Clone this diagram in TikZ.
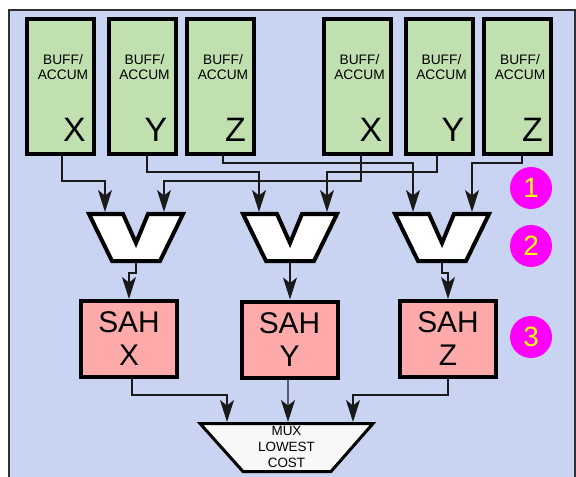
\documentclass[tikz,border=0pt]{standalone}
\usepackage{fontspec}
\setmainfont{Liberation Sans}
\usetikzlibrary{arrows.meta,calc}
\definecolor{panelfill}{HTML}{C8D4F2}
\definecolor{panelline}{HTML}{303030}
\definecolor{buffill}{HTML}{C0E0B0}
\definecolor{sahfill}{HTML}{FFAAAA}
\definecolor{muxfill}{HTML}{F8F8F8}
\definecolor{wirecol}{HTML}{1A1A1A}
\definecolor{badgefill}{HTML}{FF00FF}
\definecolor{badgetext}{HTML}{FFFF00}
\tikzset{
  bufbox/.style={draw=black, line width=4bp, fill=buffill, inner sep=0pt,
    minimum width=67bp, minimum height=135bp},
  buftext/.style={inner sep=0pt, align=center,
    font=\fontsize{13.8}{15}\selectfont},
  bigletter/.style={inner sep=0pt, font=\fontsize{34}{34}\selectfont},
  funnelbody/.style={draw=black, line width=4bp, fill=white, line join=miter},
  sahbox/.style={draw=black, line width=4bp, fill=sahfill, inner sep=0pt,
    minimum width=96bp, minimum height=76bp, align=center,
    font=\fontsize{30}{33}\selectfont},
  muxbody/.style={draw=black, line width=3bp, fill=muxfill, line join=miter},
  muxtext/.style={inner sep=0pt, align=center,
    font=\fontsize{13.5}{16}\selectfont},
  wire/.style={draw=wirecol, line width=1.4bp,
    -{Stealth[length=22bp, width=14bp, inset=5.5bp]}},
  badge/.style={circle, fill=badgefill, text=badgetext, inner sep=0pt,
    minimum size=42bp, font=\fontsize{28}{28}\selectfont},
}
\begin{document}
\begin{tikzpicture}[x=1bp, y=-1bp]
\useasboundingbox (0,0) rectangle (576,477);
\fill[white] (0,0) rectangle (576,477);
% panel behind the whole circuit
\draw[draw=panelline, line width=1.5bp, fill=panelfill] (9,10) rectangle (575,500);

% buffer / accumulator columns
\foreach \n/\cx/\L in {1/60.5/X, 2/142/Y, 3/220.5/Z, 4/357/X, 5/439/Y, 6/517.5/Z} {
  \node[bufbox] (buf\n) at (\cx,86.5) {};
  \node[buftext] (bt\n) at (\cx+2.5,67.5) {BUFF/\\ACCUM};
  \node[bigletter, anchor=base east] (bl\n) at (\cx+25.5,142) {\L};
}

% comparator funnels
\foreach \i/\cx in {1/136, 2/290, 3/442} {
  \draw[funnelbody] (\cx-47,214) -- (\cx-13,214) -- (\cx,243) -- (\cx+12,214)
    -- (\cx+47,214) -- (\cx+24,261) -- (\cx-24,261) -- cycle;
  \coordinate (f\i o) at (\cx,263);
}
\coordinate (f1a) at (105,212);
\coordinate (f1b) at (164,212);
\coordinate (f2a) at (259,212);
\coordinate (f2b) at (327,212);
\coordinate (f3a) at (413,212);
\coordinate (f3b) at (472,212);

% sample-and-hold stages
\node[sahbox] (sahX) at (129,339) {SAH\\X};
\node[sahbox] (sahY) at (289.5,339.5) {SAH\\Y};
\node[sahbox] (sahZ) at (448,339) {SAH\\Z};

% output multiplexer
\draw[muxbody] (200,423.5) -- (373,423.5) -- (331,471.5) -- (243,471.5) -- cycle;
\node[muxtext] (mux) at (286.5,447) {MUX\\LOWEST\\COST};
\coordinate (m1) at (227,422);
\coordinate (m2) at (288,422);
\coordinate (m3) at (353,422);

% buffers to funnels
\draw[wire] ([xshift=1.5bp]buf1.south) -- ++(0,25) -| (f1a);
\draw[wire] ([xshift=5bp]buf2.south) -- ++(0,16) -| (f2a);
\draw[wire] ([xshift=2.5bp]buf3.south) -- ++(0,7) -| (f3a);
\draw[wire] ([xshift=4bp]buf4.south) -- ++(0,25) -| (f1b);
\draw[wire] ([xshift=-2bp]buf5.south) -- ++(0,16) -| (f2b);
\draw[wire] ([xshift=4.5bp]buf6.south) -- ++(0,7) -| (f3b);

% funnels to sample-and-hold
\draw[wire] (f1o) -- ++(0,10) -| (sahX.north);
\draw[wire] (f2o) -- (f2o |- sahY.north);
\draw[wire] (f3o) -- ++(0,10) -| (sahZ.north);

% sample-and-hold to multiplexer
\draw[wire] ([xshift=3bp]sahX.south) -- ++(0,16) -| (m1);
\draw[wire] ([xshift=-1.5bp]sahY.south) -- (m2);
\draw[wire] (sahZ.south) -- ++(0,16) -| (m3);

% stage markers
\node[badge] (c1) at (531,188) {1};
\node[badge] (c2) at (531,246) {2};
\node[badge] (c3) at (531,337) {3};
\end{tikzpicture}
\end{document}
